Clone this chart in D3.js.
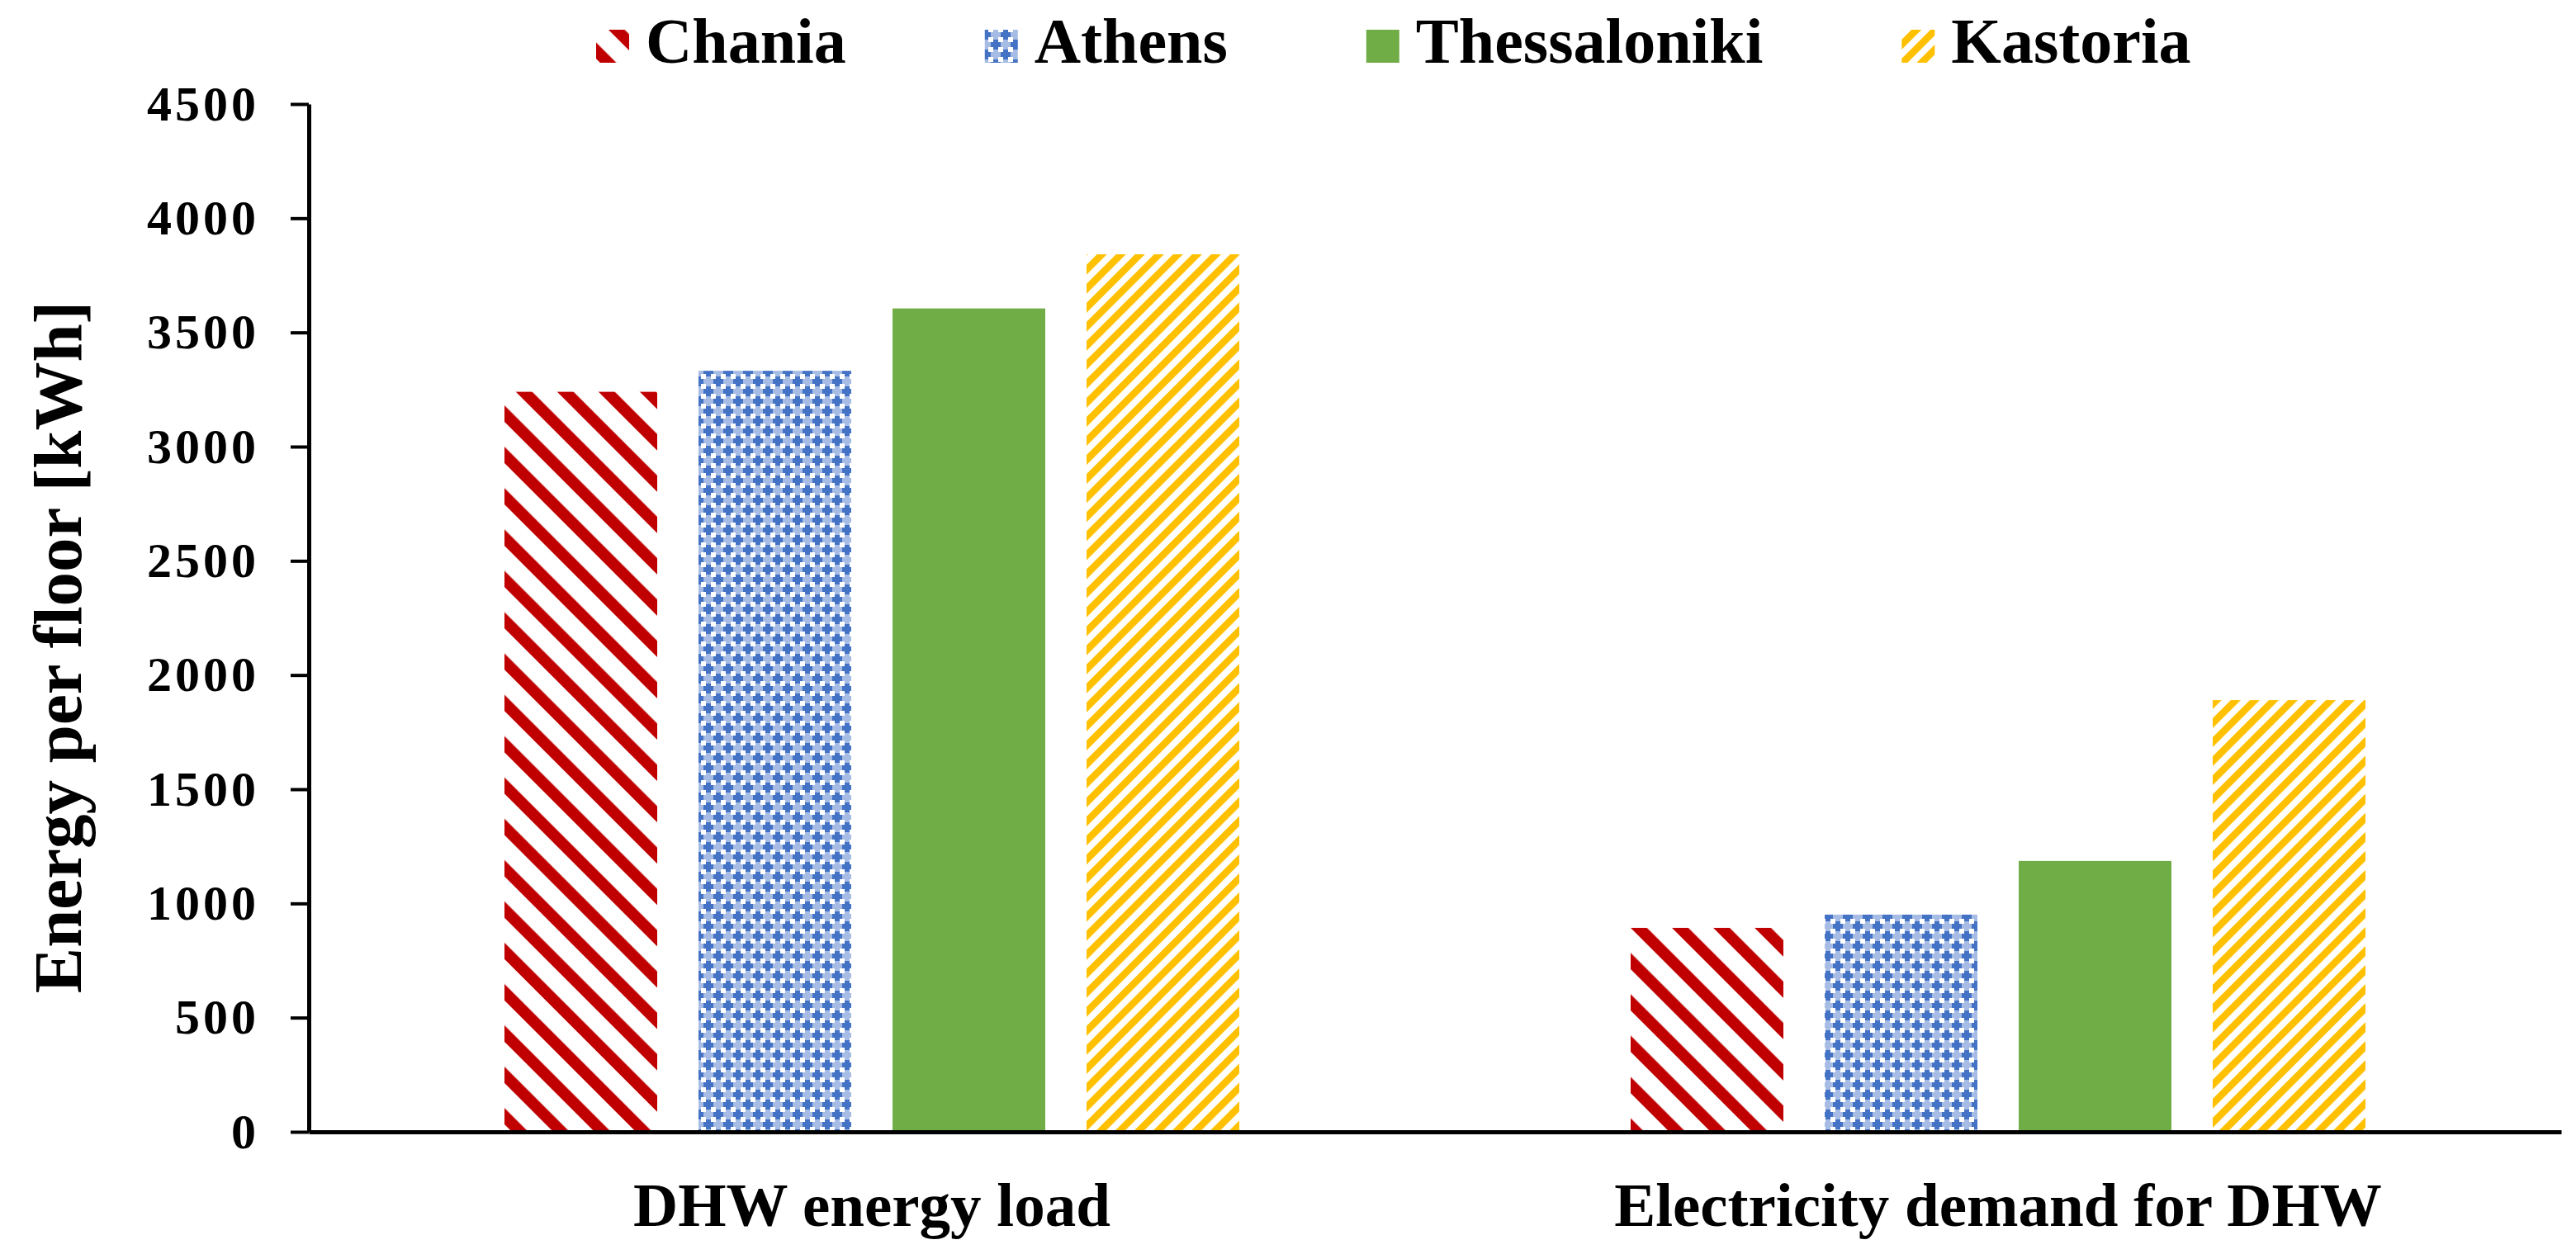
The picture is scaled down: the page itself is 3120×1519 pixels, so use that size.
<!DOCTYPE html>
<html>
<head>
<meta charset="utf-8">
<script src="https://cdn.jsdelivr.net/npm/d3@7"></script>
<style>
  body { margin: 0; background: #fff; }
  text { font-family: "Liberation Serif", "Times New Roman", serif; font-weight: bold; }
</style>
</head>
<body>
<div id="chart"></div>
<script>
// data
const categories = ["DHW energy load", "Electricity demand for DHW"];
const cities = ["Chania", "Athens", "Thessaloniki", "Kastoria"];
const chania = [3240, 893];
const athens = [3332, 951];
const thessaloniki = [3605, 1186];
const kastoria = [3842, 1890];
const yTicks = [0, 500, 1000, 1500, 2000, 2500, 3000, 3500, 4000, 4500];

const seriesValues = [chania, athens, thessaloniki, kastoria];
const rows = [];
for (let c = 0; c < categories.length; c++) {
   for (let s = 0; s < cities.length; s++) {
      rows.push({ cat: categories[c], city: cities[s], value: seriesValues[s][c] });
   }
}

const w = 3120;
const h = 1519;
const plotLeft = 374, plotRight = 3102, plotTop = 126, plotBottom = 1371;

const svg = d3.select("#chart")
   .append("svg")
   .attr("width", w)
   .attr("height", h);

// fill patterns
const defs = svg.append("defs");

const pRed = defs.append("pattern")
   .attr("id", "p-Chania")
   .attr("patternUnits", "userSpaceOnUse")
   .attr("width", 35.4).attr("height", 35.4)
   .attr("patternTransform", "rotate(-45)");
pRed.append("rect").attr("width", 35.4).attr("height", 35.4).attr("fill", "#fff");
pRed.append("rect").attr("width", 14).attr("height", 35.4).attr("fill", "#C00000");

const pBlue = defs.append("pattern")
   .attr("id", "p-Athens")
   .attr("patternUnits", "userSpaceOnUse")
   .attr("width", 24).attr("height", 24);
pBlue.append("rect").attr("width", 24).attr("height", 24).attr("fill", "#fff");
const plus = (g, cx, cy, col) => {
   g.append("rect").attr("x", cx - 6).attr("y", cy - 3).attr("width", 12).attr("height", 6).attr("fill", col);
   g.append("rect").attr("x", cx - 3).attr("y", cy - 6).attr("width", 6).attr("height", 12).attr("fill", col);
};
plus(pBlue, 18, 6, "#A6BCE4");
plus(pBlue, 6, 18, "#A6BCE4");
plus(pBlue, 6, 6, "#4472C4");
plus(pBlue, 18, 18, "#4472C4");

const pYellow = defs.append("pattern")
   .attr("id", "p-Kastoria")
   .attr("patternUnits", "userSpaceOnUse")
   .attr("width", 16.3).attr("height", 16.3)
   .attr("patternTransform", "rotate(45)");
pYellow.append("rect").attr("width", 16.3).attr("height", 16.3).attr("fill", "#fff");
pYellow.append("rect").attr("width", 8.5).attr("height", 16.3).attr("fill", "#FFC000");

const fills = { Chania: "url(#p-Chania)", Athens: "url(#p-Athens)", Thessaloniki: "#70AD47", Kastoria: "url(#p-Kastoria)" };

// scales
const x0 = d3.scaleBand()
   .domain(categories)
   .range([plotLeft, plotRight]);

const groupW = 940;
const x1 = d3.scaleBand()
   .domain(cities)
   .range([0, groupW])
   .paddingInner(50 / 235)
   .paddingOuter(25 / 235);

const y = d3.scaleLinear()
   .domain([0, 4500])
   .range([plotBottom, plotTop]);

// bars
svg.append("g")
   .selectAll("rect")
   .data(rows)
   .enter()
   .append("rect")
   .attr("x", (d) => x0(d.cat) + x0.bandwidth() / 2 - groupW / 2 + x1(d.city))
   .attr("y", (d) => y(d.value))
   .attr("width", x1.bandwidth())
   .attr("height", (d) => y(0) - y(d.value))
   .attr("fill", (d) => fills[d.city]);

// y axis
const yAxis = d3.axisLeft(y)
   .tickValues(yTicks)
   .tickFormat(d3.format("d"))
   .tickSize(22)
   .tickSizeOuter(0)
   .tickPadding(38);
const gy = svg.append("g")
   .attr("transform", `translate(${plotLeft},0)`)
   .call(yAxis);
gy.select(".domain").attr("stroke", "#000").attr("stroke-width", 5);
gy.selectAll(".tick line").attr("stroke", "#000").attr("stroke-width", 4);
gy.selectAll(".tick text")
   .attr("fill", "#000")
   .style("font-size", "60px")
   .style("letter-spacing", "4px");

// x axis
const xAxis = d3.axisBottom(x0)
   .tickSize(0)
   .tickSizeOuter(0)
   .tickPadding(61);
const gx = svg.append("g")
   .attr("transform", `translate(0,${plotBottom})`)
   .call(xAxis);
gx.select(".domain").attr("stroke", "#000").attr("stroke-width", 5);
gx.selectAll(".tick text")
   .attr("fill", "#000")
   .style("font-size", "75px");

// y title
svg.append("text")
   .attr("transform", "translate(98,784) rotate(-90)")
   .attr("text-anchor", "middle")
   .style("font-size", "83px")
   .attr("fill", "#000")
   .text("Energy per floor [kWh]");

// legend
const legend = svg.append("g");
let lx = 722;
cities.forEach((city) => {
   legend.append("rect")
      .attr("x", lx).attr("y", 36)
      .attr("width", 40).attr("height", 40)
      .attr("fill", fills[city]);
   const t = legend.append("text")
      .attr("x", lx + 60).attr("y", 76)
      .style("font-size", "78px")
      .attr("fill", "#000")
      .text(city);
   lx = lx + 60 + t.node().getComputedTextLength() + 168;
});
</script>
</body>
</html>
